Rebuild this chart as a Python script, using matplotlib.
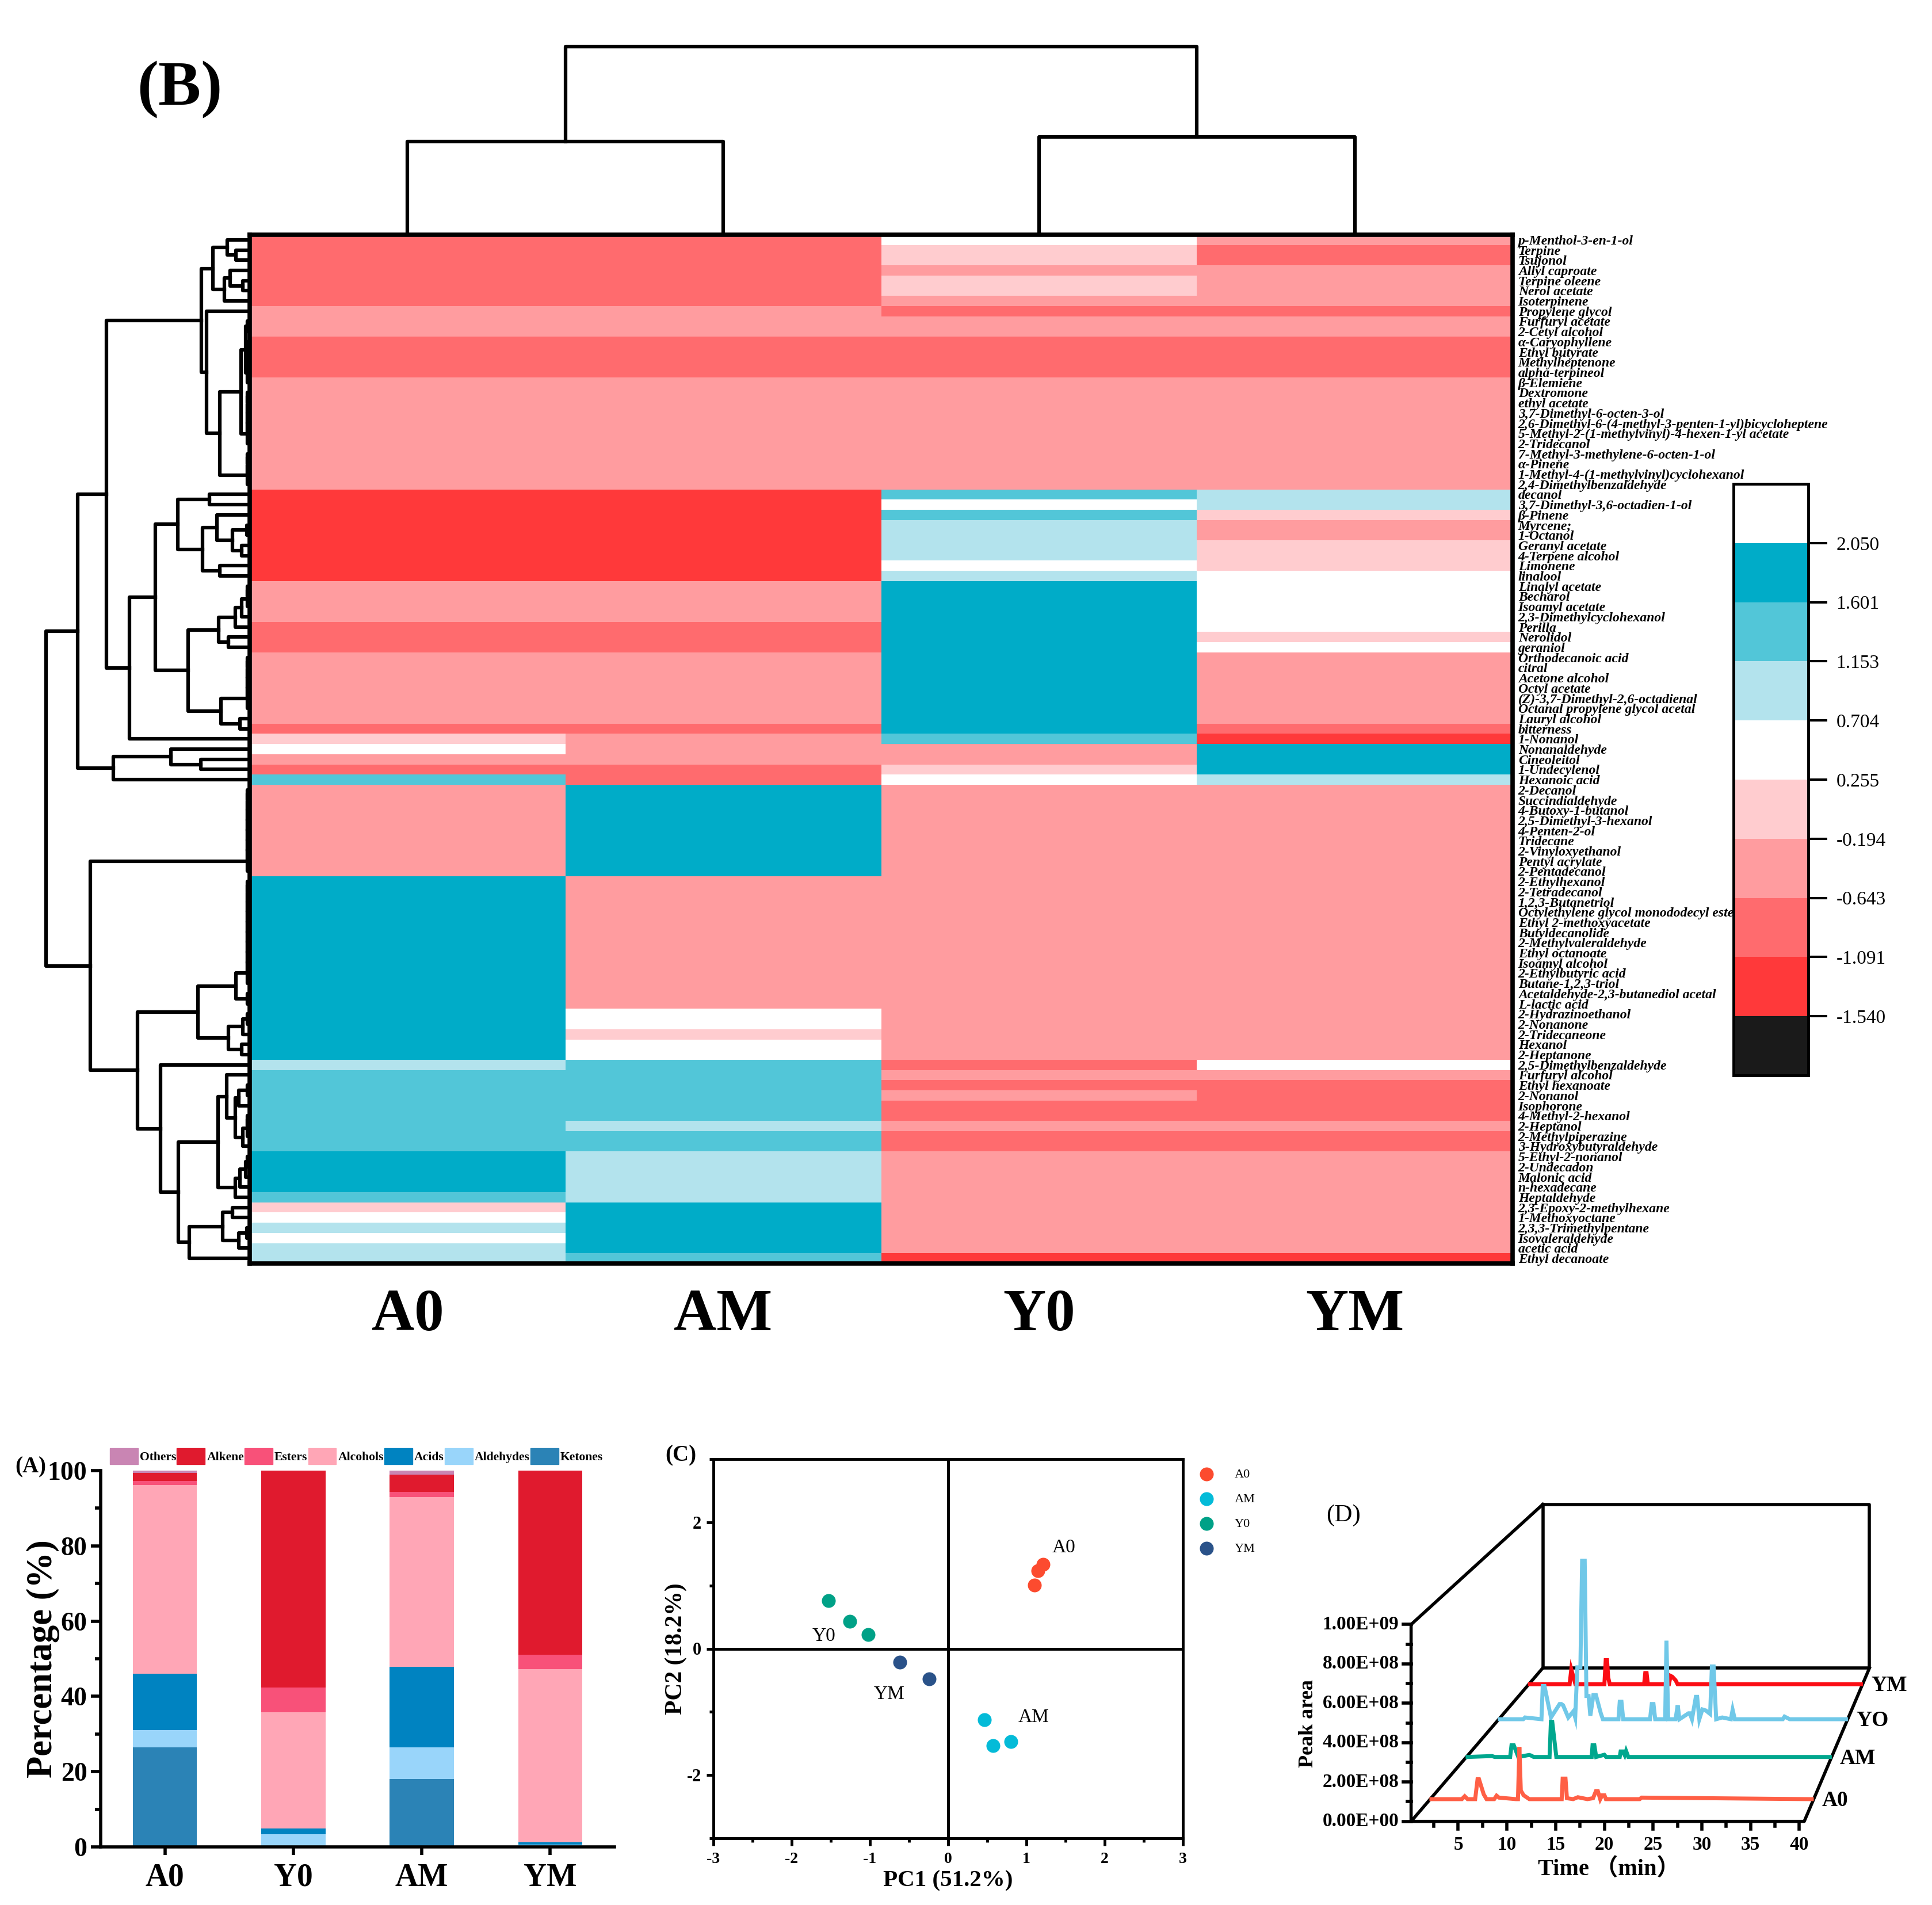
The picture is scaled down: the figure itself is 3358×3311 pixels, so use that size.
import numpy as np
import matplotlib
matplotlib.use("Agg")
import matplotlib.pyplot as plt
from matplotlib.colors import ListedColormap, BoundaryNorm
from matplotlib.patches import Patch
from matplotlib.cm import ScalarMappable

plt.rcParams['font.family'] = ['Liberation Serif', 'Noto Sans CJK SC']
plt.rcParams['axes.unicode_minus'] = False

W, H = 3358, 3311

# ---------- heatmap data ----------
compounds = ["p-Menthol-3-en-1-ol", "Terpine", "Tsujonol", "Allyl caproate", "Terpine oleene", "Nerol acetate",
             "Isoterpinene", "Propylene glycol", "Furfuryl acetate", "2-Cetyl alcohol", "α-Caryophyllene",
             "Ethyl butyrate", "Methylheptenone", "alpha-terpineol", "β-Elemiene", "Dextromone", "ethyl acetate",
             "3,7-Dimethyl-6-octen-3-ol", "2,6-Dimethyl-6-(4-methyl-3-penten-1-yl)bicycloheptene",
             "5-Methyl-2-(1-methylvinyl)-4-hexen-1-yl acetate", "2-Tridecanol", "7-Methyl-3-methylene-6-octen-1-ol",
             "α-Pinene", "1-Methyl-4-(1-methylvinyl)cyclohexanol", "2,4-Dimethylbenzaldehyde", "decanol",
             "3,7-Dimethyl-3,6-octadien-1-ol", "β-Pinene", "Myrcene;", "1-Octanol", "Geranyl acetate",
             "4-Terpene alcohol", "Limonene", "linalool", "Linalyl acetate", "Becharol", "Isoamyl acetate",
             "2,3-Dimethylcyclohexanol", "Perilla", "Nerolidol", "geraniol", "Orthodecanoic acid", "citral",
             "Acetone alcohol", "Octyl acetate", "(Z)-3,7-Dimethyl-2,6-octadienal", "Octanal propylene glycol acetal",
             "Lauryl alcohol", "bitterness", "1-Nonanol", "Nonanaldehyde", "Cineoleitol", "1-Undecylenol",
             "Hexanoic acid", "2-Decanol", "Succindialdehyde", "4-Butoxy-1-butanol", "2,5-Dimethyl-3-hexanol",
             "4-Penten-2-ol", "Tridecane", "2-Vinyloxyethanol", "Pentyl acrylate", "2-Pentadecanol", "2-Ethylhexanol",
             "2-Tetradecanol", "1,2,3-Butanetriol", "Octylethylene glycol monododecyl ester", "Ethyl 2-methoxyacetate",
             "Butyldecanolide", "2-Methylvaleraldehyde", "Ethyl octanoate", "Isoamyl alcohol", "2-Ethylbutyric acid",
             "Butane-1,2,3-triol", "Acetaldehyde-2,3-butanediol acetal", "L-lactic acid", "2-Hydrazinoethanol",
             "2-Nonanone", "2-Tridecaneone", "Hexanol", "2-Heptanone", "2,5-Dimethylbenzaldehyde", "Furfuryl alcohol",
             "Ethyl hexanoate", "2-Nonanol", "Isophorone", "4-Methyl-2-hexanol", "2-Heptanol", "2-Methylpiperazine",
             "3-Hydroxybutyraldehyde", "5-Ethyl-2-nonanol", "2-Undecadon", "Malonic acid", "n-hexadecane",
             "Heptaldehyde", "2,3-Epoxy-2-methylhexane", "1-Methoxyoctane", "2,3,3-Trimethylpentane",
             "Isovaleraldehyde", "acetic acid", "Ethyl decanoate"]
samples = ["A0", "AM", "Y0", "YM"]

A0_runs = [(-.87, 7), (-.42, 3), (-.87, 4), (-.42, 11), (-1.32, 9), (-.42, 4), (-.87, 3), (-.42, 7), (-.87, 1),
           (.03, 1), (.48, 1), (-.42, 1), (-.87, 1), (1.38, 1), (-.42, 9), (1.83, 18), (.93, 1), (1.38, 8),
           (1.83, 4), (1.38, 1), (.03, 1), (.48, 1), (.93, 1), (.48, 1), (.93, 2)]
AM_runs = [(-.87, 7), (-.42, 3), (-.87, 4), (-.42, 11), (-1.32, 9), (-.42, 4), (-.87, 3), (-.42, 7), (-.87, 1),
           (-.42, 3), (-.87, 2), (1.83, 9), (-.42, 13), (.48, 2), (.03, 1), (.48, 2), (1.38, 6), (.93, 1),
           (1.38, 2), (.93, 5), (1.83, 5), (1.38, 1)]
Y0_runs = [(.48, 1), (.03, 2), (-.42, 1), (.03, 2), (-.42, 1), (-.87, 1), (-.42, 2), (-.87, 4), (-.42, 11),
           (1.38, 1), (.48, 1), (1.38, 1), (.93, 4), (.48, 1), (.93, 1), (1.83, 15), (1.38, 1), (-.42, 2),
           (.03, 1), (.48, 1), (-.42, 27), (-.87, 1), (-.42, 1), (-.87, 1), (-.42, 1), (-.87, 2), (-.42, 1),
           (-.87, 2), (-.42, 10), (-1.32, 1)]
YM_runs = [(-.42, 1), (-.87, 2), (-.42, 4), (-.87, 1), (-.42, 2), (-.87, 4), (-.42, 11), (.93, 2), (.03, 1),
           (-.42, 2), (.03, 3), (.48, 6), (.03, 1), (.48, 1), (-.42, 7), (-.87, 1), (-1.32, 1), (1.83, 3),
           (.93, 1), (-.42, 27), (.48, 1), (-.42, 1), (-.87, 4), (-.42, 1), (-.87, 2), (-.42, 10), (-1.32, 1)]

cbar_bounds = [-1.989, -1.540, -1.091, -0.643, -0.194, 0.255, 0.704, 1.153, 1.601, 2.050, 2.499]
cbar_colors = ["#1A1A1A", "#FF393A", "#FF6B6E", "#FF9C9F", "#FFCCCF", "#FFFFFF", "#B3E3ED", "#52C6D8", "#00ACC8", "#FFFFFF"]

# dendrograms: (height, upper branch, lower branch), None is one row
def flat(n, h=2):
    # rows that are almost the same, they merge right at the heatmap edge
    if n == 1:
        return None
    return (h, flat(n - 1), None)

L = None
top_tree = (325, (160, L, L), (168, L, L))
tree_a11 = (62, (37, L, (22, L, L)), (42, (32, L, (10, L, L)), L))
tree_a12 = (73, L, (50, (13, (5, flat(2), flat(5)), flat(6)), flat(4)))
tree_a2up = (123, (68, L, L), (80, (55, L, (28, (3, L, L), (12, L, L))), (50, L, L)))
tree_a2lo = (105, (52, (23, (12, flat(3), L), L), (35, L, L)), (48, flat(6), (15, L, L)))
tree_a = (247, (82, tree_a11, tree_a12), (207, (162, tree_a2up, tree_a2lo), L))
tree_b = (235, (135, L, (83, L, L)), L)
tree_x = (88, (22, flat(11), flat(2)), (35, flat(3, 10), (12, L, L)))
tree_p = (53, (38, L, (23, flat(3, 17), flat(4, 10))), (23, (15, flat(3, 5), L), L))
tree_q = (103, (45, (28, L, L), (17, (3, L, L), L)), L)
tree_low = (275, flat(9), (193, tree_x, (153, L, (122, tree_p, tree_q))))
row_tree = (352, (297, tree_a, tree_b), tree_low)

# ---------- panel A ----------
groups_a = ["A0", "Y0", "AM", "YM"]
classes = ["Ketones", "Aldehydes", "Acids", "Alcohols", "Esters", "Alkene", "Others"]
ketones = [26.4, 0.2, 18.0, 0.1]
aldehydes = [4.6, 3.2, 8.4, 0.5]
acids = [15.1, 1.45, 21.4, 0.6]
alcohols = [50.1, 30.95, 45.2, 46.1]
esters = [1.1, 6.6, 1.4, 3.8]
alkene = [2.1, 57.6, 4.6, 48.9]
others = [0.6, 0.0, 1.0, 0.0]
class_colors = ["#2B83B6", "#99D5FA", "#0083C1", "#FFA6B6", "#F85179", "#E01A2E", "#C985B3"]

# ---------- panel C ----------
pca_groups = ["A0", "AM", "Y0", "YM"]
pca_colors = ["#FC4B2F", "#04BBD8", "#00A187", "#2A5289"]
pca_x = [[1.21, 1.15, 1.10], [0.46, 0.57, 0.80], [-1.53, -1.26, -1.02], [-0.62, -0.24]]
pca_y = [[1.33, 1.23, 1.01], [-1.12, -1.53, -1.47], [0.76, 0.43, 0.22], [-0.21, -0.48]]

# ---------- panel D, intensity in 1E+08 ----------
a0_t = [0.3, 3.5, 3.8, 4.1, 4.9, 5.15, 5.3, 5.8, 6.1, 6.9, 7.15, 7.4, 9.2, 9.4, 9.55, 9.7, 10.0, 10.6, 14.0, 14.1, 14.4, 14.55, 15.2, 15.7, 16.7, 17.3, 17.6, 17.8, 18.05, 18.25, 18.5, 18.65, 18.9, 20.2, 22.2, 22.4, 40.3]
a0_v = [0, 0, .15, 0, 0, 1.04, 1.04, .25, 0, 0, .18, .08, 0, 0, 2.71, .45, .2, 0, 0, 1.07, 1.07, .05, 0, .1, 0, .05, .42, .42, 0, .2, .2, 0, 0, 0, 0, .08, 0]
am_t = [0.3, 3.0, 3.3, 5.0, 5.15, 5.4, 5.9, 7.1, 7.3, 7.6, 9.35, 9.5, 9.65, 10.1, 14.0, 14.1, 14.3, 14.5, 15.4, 15.6, 17.1, 17.2, 17.45, 17.65, 17.8, 18.05, 40.3]
am_v = [0, .05, 0, 0, .64, .64, 0, .11, .08, 0, 0, 1.92, 1.92, 0, 0, .64, .64, 0, .12, 0, 0, .3, .3, .1, .33, 0, 0]
yo_t = [0.3, 3.0, 3.2, 5.1, 5.25, 5.45, 6.2, 7.2, 7.4, 7.6, 8.2, 8.8, 9.0, 9.25, 9.6, 9.8, 10.1, 10.3, 10.55, 10.75, 11.1, 11.4, 11.96, 12.2, 14.0, 14.15, 14.35, 14.55, 17.65, 17.85, 18.05, 18.25, 19.4, 19.55, 19.75, 20.6, 20.85, 21.05, 22.1, 22.25, 22.5, 22.95, 23.1, 23.35, 23.7, 24.1, 24.6, 24.8, 25.0, 25.3, 26.0, 27.0, 27.2, 27.45, 33.0, 33.2, 33.8, 40.3]
yo_v = [0, 0, .1, 0, 1.9, 1.9, .1, .87, .87, .8, .1, .46, .1, 2.97, 2.97, 9.07, 9.07, 1.33, 1.33, .2, 1.38, 1.38, .34, 0, 0, 1.0, 1.0, 0, 0, .87, .87, 0, 0, 4.49, 0, 0, .8, 0, .34, .34, 0, 1.28, 1.28, 0, .56, .5, .3, 3.02, 3.02, 0, .1, 0, .54, 0, 0, .15, 0, 0]
ym_t = [0.3, 5.1, 5.3, 5.8, 9.3, 9.46, 9.62, 9.76, 9.95, 14.1, 14.24, 14.4, 14.55, 17.1, 17.3, 17.5, 17.9, 18.15, 40.3]
ym_v = [0, 0, .89, 0, 0, 1.44, 1.44, .4, 0, 0, .67, .67, 0, 0, .5, .45, .24, 0, 0]
d_series = ["YM", "YO", "AM", "A0"]
d_depth = [0.894, 0.666, 0.42, 0.145]
d_colors = ["#FB0D14", "#70C8E8", "#00A78E", "#FF5F45"]
d_times = [ym_t, yo_t, am_t, a0_t]
d_values = [ym_v, yo_v, am_v, a0_v]
d_yticks = ["0.00E+00", "2.00E+08", "4.00E+08", "6.00E+08", "8.00E+08", "1.00E+09"]


def expand(runs):
    vals, counts = zip(*runs)
    return np.repeat(vals, counts)


def px_axes(left, top, right, bottom):
    return fig.add_axes([left / W, 1 - bottom / H, (right - left) / W, (bottom - top) / H])


fig = plt.figure(figsize=(W / 100, H / 100), dpi=100)

# heatmap
hm_l, hm_t, hm_r, hm_b = 434, 408, 2629, 2196
ax = px_axes(hm_l, hm_t, hm_r, hm_b)
matrix = np.column_stack([expand(A0_runs), expand(AM_runs), expand(Y0_runs), expand(YM_runs)])
cmap = ListedColormap(cbar_colors)
norm = BoundaryNorm(cbar_bounds, cmap.N)
ax.pcolormesh(np.arange(5), np.arange(len(compounds) + 1), matrix, cmap=cmap, norm=norm)
ax.set_ylim(len(compounds), 0)
ax.set_xticks(np.arange(4) + 0.5)
ax.set_xticklabels(samples, fontsize=74, fontweight='bold')
ax.tick_params(axis='x', length=0, pad=32)
ax.yaxis.tick_right()
ax.set_yticks(np.arange(len(compounds)) + 0.5)
ax.set_yticklabels(compounds, fontsize=17, fontweight='bold', fontstyle='italic')
ax.tick_params(axis='y', length=0, pad=7)
for s in ax.spines.values():
    s.set_linewidth(5.5)

fig.text(238 / W, 1 - 156 / H, "(B)", fontsize=80, fontweight='bold', va='center', ha='left')


# dendrograms
def draw_row(node, dax, counter):
    if node is None:
        counter[0] += 1
        return counter[0] - 0.5, 0
    h, up, low = node
    y1, h1 = draw_row(up, dax, counter)
    y2, h2 = draw_row(low, dax, counter)
    dax.plot([h1, h, h, h2], [y1, y1, y2, y2], color='k', lw=4.5, clip_on=False, solid_joinstyle='round')
    return (y1 + y2) / 2, h


dax = px_axes(60, hm_t, hm_l - 2, hm_b)
dax.set_xlim(hm_l - 2 - 60, 0)
dax.set_ylim(len(compounds), 0)
dax.axis('off')
draw_row(row_tree, dax, [0])

tax = px_axes(hm_l, 70, hm_r, hm_t - 2)
tax.set_xlim(0, 4)
tax.set_ylim(0, hm_t - 2 - 70)
tax.axis('off')
counter = [0]


def draw_col(node):
    if node is None:
        counter[0] += 1
        return counter[0] - 0.5, 0
    h, left, right = node
    x1, h1 = draw_col(left)
    x2, h2 = draw_col(right)
    tax.plot([x1, x1, x2, x2], [h1, h, h, h2], color='k', lw=4.5, clip_on=False)
    return (x1 + x2) / 2, h


draw_col(top_tree)

# colorbar
cax = px_axes(3013, 841, 3143, 1869)
cb = fig.colorbar(ScalarMappable(norm=norm, cmap=cmap), cax=cax, spacing='uniform', ticks=cbar_bounds[1:-1])
cb.ax.set_yticklabels([f"{b:.3f}" for b in cbar_bounds[1:-1]], fontsize=24)
cb.ax.tick_params(length=24, width=3, pad=11)
cb.outline.set_linewidth(3.5)
cb.ax.minorticks_off()

# panel A
ax_a = px_axes(175, 2556, 1068, 3210)
bottoms = np.zeros(4)
for name, vals, col in zip(classes, [ketones, aldehydes, acids, alcohols, esters, alkene, others], class_colors):
    ax_a.bar(groups_a, vals, width=0.5, bottom=bottoms, color=col, label=name)
    bottoms += np.array(vals)
ax_a.set_xlim(-0.5, 3.5)
ax_a.set_ylim(0, 100)
ax_a.set_yticks(range(0, 101, 20))
ax_a.set_yticks(range(10, 100, 20), minor=True)
ax_a.tick_params(axis='y', which='major', labelsize=33, width=4, length=12, pad=5)
ax_a.tick_params(axis='y', which='minor', width=4, length=7)
ax_a.tick_params(axis='x', labelsize=40, width=4, length=10, pad=10)
for lab in ax_a.get_yticklabels() + ax_a.get_xticklabels():
    lab.set_fontweight('bold')
ax_a.spines[['top', 'right']].set_visible(False)
ax_a.spines[['left', 'bottom']].set_linewidth(4)
ax_a.set_ylabel("Percentage (%)", fontsize=45, fontweight='bold', labelpad=-15)
handles = [Patch(color=c, label=n) for n, c in zip(classes, class_colors)][::-1]
ax_a.legend(handles=handles, ncols=7, frameon=False, loc='center left',
            bbox_to_anchor=(191 / W, 1 - 2531 / H), bbox_transform=fig.transFigure,
            prop={'weight': 'bold', 'size': 15.6}, handlelength=2.25, handleheight=1.6,
            handletextpad=0.15, columnspacing=0.05, borderpad=0, borderaxespad=0)
fig.text(26 / W, 1 - 2550 / H, "(A)", fontsize=28, fontweight='bold', va='center')

# panel C
ax_c = px_axes(1240, 2536, 2056, 3195)
for name, xs, ys, col in zip(pca_groups, pca_x, pca_y, pca_colors):
    ax_c.scatter(xs, ys, s=300, color=col, label=name, zorder=3, linewidths=0)
ax_c.axhline(0, color='k', lw=3.5)
ax_c.axvline(0, color='k', lw=3.5)
ax_c.set_xlim(-3, 3)
ax_c.set_ylim(-3, 3)
ax_c.set_xticks(range(-3, 4))
ax_c.set_xticks(np.arange(-2.5, 3, 1), minor=True)
ax_c.set_yticks([-2, 0, 2])
ax_c.set_yticks([-3, -1, 1, 3], minor=True)
ax_c.tick_params(axis='x', which='major', labelsize=20, width=3.5, length=9, pad=8)
ax_c.tick_params(axis='y', which='major', labelsize=22, width=3.5, length=9, pad=6)
ax_c.tick_params(which='minor', width=3.5, length=5)
for lab in ax_c.get_yticklabels() + ax_c.get_xticklabels():
    lab.set_fontweight('bold')
for s in ax_c.spines.values():
    s.set_linewidth(3.5)
ax_c.set_xlabel("PC1 (51.2%)", fontsize=29.5, fontweight='bold', labelpad=5)
ax_c.set_ylabel("PC2 (18.2%)", fontsize=30, fontweight='bold', labelpad=0)
ax_c.text(1.48, 1.60, "A0", fontsize=24, ha='center', va='center')
ax_c.text(-1.59, 0.20, "Y0", fontsize=24, ha='center', va='center')
ax_c.text(-0.75, -0.72, "YM", fontsize=24, ha='center', va='center')
ax_c.text(1.09, -1.09, "AM", fontsize=24, ha='center', va='center')
ax_c.legend(frameon=False, loc='upper left', bbox_to_anchor=(2075 / W, 1 - 2552 / H),
            bbox_transform=fig.transFigure, fontsize=16, labelspacing=1.02,
            handletextpad=1.2, borderpad=0, borderaxespad=0, scatterpoints=1)
fig.text(1156 / W, 1 - 2530 / H, "(C)", fontsize=28, fontweight='bold', va='center')

# panel D, pseudo 3D: draw in a flat axes and project time / intensity / depth
ax_d = px_axes(2200, 2520, 3300, 3300)
ax_d.set_xlim(0, 1568)
ax_d.set_ylim(1568, 0)
ax_d.axis('off')


def project(t, v, depth):
    shrink = 1 - 0.169 * depth
    x = 356 + 327 * depth + 24.15 * np.asarray(t, float) * shrink
    y = 1298 - 536 * depth - 68.8 * np.asarray(v, float) * shrink
    return x, y


def frame(ts, vs, ds):
    x, y = zip(*[project(t, v, d) for t, v, d in zip(ts, vs, ds)])
    ax_d.plot(x, y, color='k', lw=4, clip_on=False, solid_capstyle='projecting')


t_end = 40.5
t_start = 0.17
frame([t_start, t_end, t_end, t_start, t_start], [10, 10, 0, 0, 10], [1, 1, 1, 1, 1])
frame([t_start, t_start, t_start], [0, 0, 10], [1, 0, 0])
frame([t_start, t_start], [10, 10], [0, 1])
frame([t_start, t_end, t_end], [0, 0, 0], [0, 0, 1])

for name, depth, col, ts, vs in zip(d_series, d_depth, d_colors, d_times, d_values):
    x, y = project(ts, vs, depth)
    ax_d.plot(x, y, color=col, lw=5, clip_on=False, solid_joinstyle='miter')
    ax_d.text(x[-1] + 25, y[-1] + 5, name, fontsize=27, fontweight='bold', va='center', ha='left', clip_on=False)

for i in range(11):
    x, y = project(t_start, i, 0)
    length = 20 if i % 2 == 0 else 10
    ax_d.plot([x - length, x], [y, y], color='k', lw=4)
    if i % 2 == 0:
        ax_d.text(330, y, d_yticks[i // 2], fontsize=24, fontweight='bold', ha='right', va='center')
for t in np.arange(2.5, 41, 2.5):
    x, y = project(t, 0, 0)
    major = t % 5 == 0
    ax_d.plot([x, x], [y, y + (27 if major else 16)], color='k', lw=4)
    if major:
        ax_d.text(x, 1380, f"{t:.0f}", fontsize=24, fontweight='bold', ha='center', va='center')
ax_d.text(850, 1465, "Time （min）", fontsize=29, fontweight='bold', ha='center', va='center')
ax_d.text(105, 955, "Peak area", fontsize=26, fontweight='bold', rotation=90, ha='center', va='center')
ax_d.text(193, 228, "(D)", fontsize=31, ha='center', va='center')

fig.savefig("out.png", dpi=100)
